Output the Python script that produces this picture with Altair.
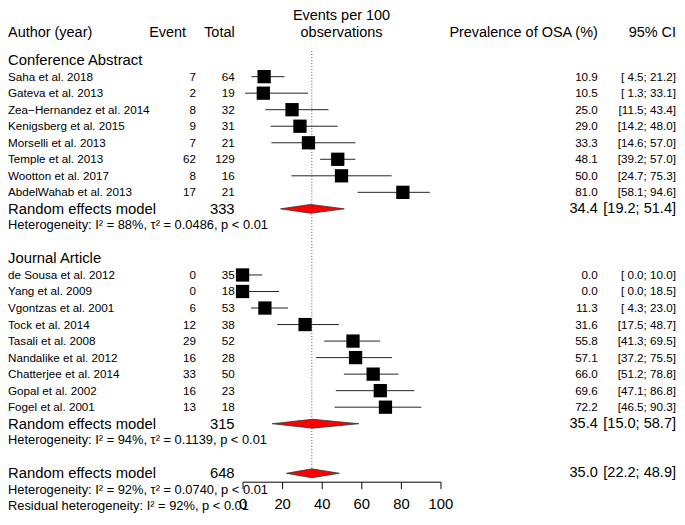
import altair as alt
import pandas as pd

FONT = "Liberation Sans"

# ---------------- data ----------------
ca_authors = ["Saha et al. 2018", "Gateva et al. 2013", "Zea\u2212Hernandez et al. 2014",
              "Kenigsberg et al. 2015", "Morselli et al. 2013", "Temple et al. 2013",
              "Wootton et al. 2017", "AbdelWahab et al. 2013"]
ca_events = [7, 2, 8, 9, 7, 62, 8, 17]
ca_totals = [64, 19, 32, 31, 21, 129, 16, 21]
ca_est = [10.9, 10.5, 25.0, 29.0, 33.3, 48.1, 50.0, 81.0]
ca_lo = [4.5, 1.3, 11.5, 14.2, 14.6, 39.2, 24.7, 58.1]
ca_hi = [21.2, 33.1, 43.4, 48.0, 57.0, 57.0, 75.3, 94.6]

ja_authors = ["de Sousa et al. 2012", "Yang et al. 2009", "Vgontzas et al. 2001",
              "Tock et al. 2014", "Tasali et al. 2008", "Nandalike et al. 2012",
              "Chatterjee et al. 2014", "Gopal et al. 2002", "Fogel et al. 2001"]
ja_events = [0, 0, 6, 12, 29, 16, 33, 16, 13]
ja_totals = [35, 18, 53, 38, 52, 28, 50, 23, 18]
ja_est = [0.0, 0.0, 11.3, 31.6, 55.8, 57.1, 66.0, 69.6, 72.2]
ja_lo = [0.0, 0.0, 4.3, 17.5, 41.3, 37.2, 51.2, 47.1, 46.5]
ja_hi = [10.0, 18.5, 23.0, 48.7, 69.5, 75.5, 78.8, 86.8, 90.3]

group_names = ["Conference Abstract", "Journal Article"]
re_totals = [333, 315, 648]
re_est = [34.4, 35.4, 35.0]
re_lo = [19.2, 15.0, 22.2]
re_hi = [51.4, 58.7, 48.9]
het_texts = ["Heterogeneity: I\u00b2 = 88%, \u03c4\u00b2 = 0.0486, p < 0.01",
             "Heterogeneity: I\u00b2 = 94%, \u03c4\u00b2 = 0.1139, p < 0.01",
             "Heterogeneity: I\u00b2 = 92%, \u03c4\u00b2 = 0.0740, p < 0.01"]
residual_text = "Residual heterogeneity: I\u00b2 = 92%, p < 0.01"
axis_ticks = [0, 20, 40, 60, 80, 100]

# ---------------- build row tables ----------------
study_rows, group_rows, re_rows, het_rows = [], [], [], []
r = 0
groups = [(ca_authors, ca_events, ca_totals, ca_est, ca_lo, ca_hi),
          (ja_authors, ja_events, ja_totals, ja_est, ja_lo, ja_hi)]
for g, (au, ev, to, es, lo, hi) in enumerate(groups):
    group_rows.append({"row": r, "label": group_names[g]})
    r += 1
    for i in range(len(au)):
        study_rows.append({"row": r, "author": au[i], "event": str(ev[i]), "total": str(to[i]),
                           "est": es[i], "lo": lo[i], "hi": hi[i],
                           "est_s": f"{es[i]:.1f}", "ci_s": f"[{lo[i]:4.1f}; {hi[i]:4.1f}]"})
        r += 1
    re_rows.append({"row": r, "key": g})
    r += 1
    het_rows.append({"row": r, "label": het_texts[g]})
    r += 2
re_rows.append({"row": r, "key": 2})
r += 1
het_rows.append({"row": r, "label": het_texts[2]})
r += 1
het_rows.append({"row": r, "label": residual_text})

for d in re_rows:
    k = d["key"]
    d.update({"label": "Random effects model", "total": str(re_totals[k]), "est": re_est[k],
              "lo": re_lo[k], "hi": re_hi[k], "est_s": f"{re_est[k]:.1f}",
              "ci_s": f"[{re_lo[k]:4.1f}; {re_hi[k]:4.1f}]"})

H = 0.27  # diamond half height in rows
dia = []
for d in re_rows:
    dia += [{"k": d["key"], "x": d["lo"], "y": d["row"], "y2": d["row"]},
            {"k": d["key"], "x": d["est"], "y": d["row"] - H, "y2": d["row"] + H},
            {"k": d["key"], "x": d["hi"], "y": d["row"], "y2": d["row"]}]

studies = pd.DataFrame(study_rows)
gdf = pd.DataFrame(group_rows)
redf = pd.DataFrame(re_rows)
hetdf = pd.DataFrame(het_rows)
diadf = pd.DataFrame(dia)
refdf = pd.DataFrame([{"x": re_est[2], "y": -0.55, "y2": re_rows[-1]["row"]}])
hdr = pd.DataFrame([
    {"row": -1.62, "t": "Author (year)", "a": "left", "px": 0},
])

# ---------------- scales ----------------
NROW = 27
yscale = alt.Scale(domain=[0, NROW], range=[50, 50 + 16.7 * NROW], zero=False, nice=False)
xscale = alt.Scale(domain=[0, 100], range=[237, 437], zero=False, nice=False)
xaxis = alt.Axis(values=axis_ticks, title=None, grid=False, domainColor="black", tickColor="black",
                 tickSize=7, labelFontSize=15, labelFont=FONT, labelColor="black",
                 labelPadding=8, labelFlush=False, labelOverlap=False, domainWidth=1, tickWidth=1)


def Y(field="row"):
    return alt.Y(f"{field}:Q", scale=yscale, axis=None)


def X(field):
    return alt.X(f"{field}:Q", scale=xscale, axis=xaxis)


def text_layer(df, field, x, align, size):
    return alt.Chart(df).mark_text(align=align, baseline="middle", font=FONT, fontSize=size,
                                   color="black").encode(x=alt.value(x), y=Y(), text=f"{field}:N")


def const_text(t, row, x, align, size):
    d = pd.DataFrame([{"row": row, "t": t}])
    return text_layer(d, "t", x, align, size)


ref = alt.Chart(refdf).mark_rule(color="#555555", strokeDash=[1, 2], strokeWidth=1).encode(
    x=X("x"), y=alt.Y("y:Q", scale=yscale, axis=None), y2="y2:Q")
ci = alt.Chart(studies).mark_rule(color="#222222", strokeWidth=1).encode(
    x=X("lo"), x2="hi:Q", y=Y())
sq = alt.Chart(studies).mark_square(size=180, color="black", opacity=1, filled=True).encode(
    x=X("est"), y=Y())
diamonds = alt.Chart(diadf).mark_area(fill="#FF0000", stroke="#333333", strokeWidth=0.8,
                                      opacity=1).encode(
    x=X("x"), y=alt.Y("y:Q", scale=yscale, axis=None), y2="y2:Q", detail="k:N")

STUDY = 11.8
layers = [ref, ci, sq, diamonds,
          text_layer(studies, "author", 0, "left", STUDY),
          text_layer(studies, "event", 190, "right", STUDY),
          text_layer(studies, "total", 229, "right", STUDY),
          text_layer(studies, "est_s", 596, "right", STUDY),
          text_layer(studies, "ci_s", 675, "right", STUDY),
          text_layer(gdf, "label", 0, "left", 15),
          text_layer(redf, "label", 0, "left", 15),
          text_layer(redf, "total", 229, "right", 15),
          text_layer(redf, "est_s", 596, "right", 14.7),
          text_layer(redf, "ci_s", 675, "right", 14.7),
          text_layer(hetdf, "label", 0, "left", 13),
          const_text("Author (year)", -1.62, 0, "left", 14.6),
          const_text("Event", -1.62, 180, "right", 14.6),
          const_text("Total", -1.62, 229, "right", 14.6),
          const_text("Events per 100", -2.65, 337, "center", 14.6),
          const_text("observations", -1.62, 337, "center", 14.6),
          const_text("Prevalence of OSA (%)", -1.62, 596, "right", 14.6),
          const_text("95% CI", -1.62, 675, "right", 14.6)]

chart = alt.layer(*layers).properties(
    width=676, height=476,
    autosize=alt.AutoSizeParams(type="none"),
    padding={"left": 0, "top": 0, "right": 0, "bottom": 33},
    background="white",
).configure_view(stroke=None)

chart.save("out.html", embed_options={"renderer": "svg", "actions": False})
